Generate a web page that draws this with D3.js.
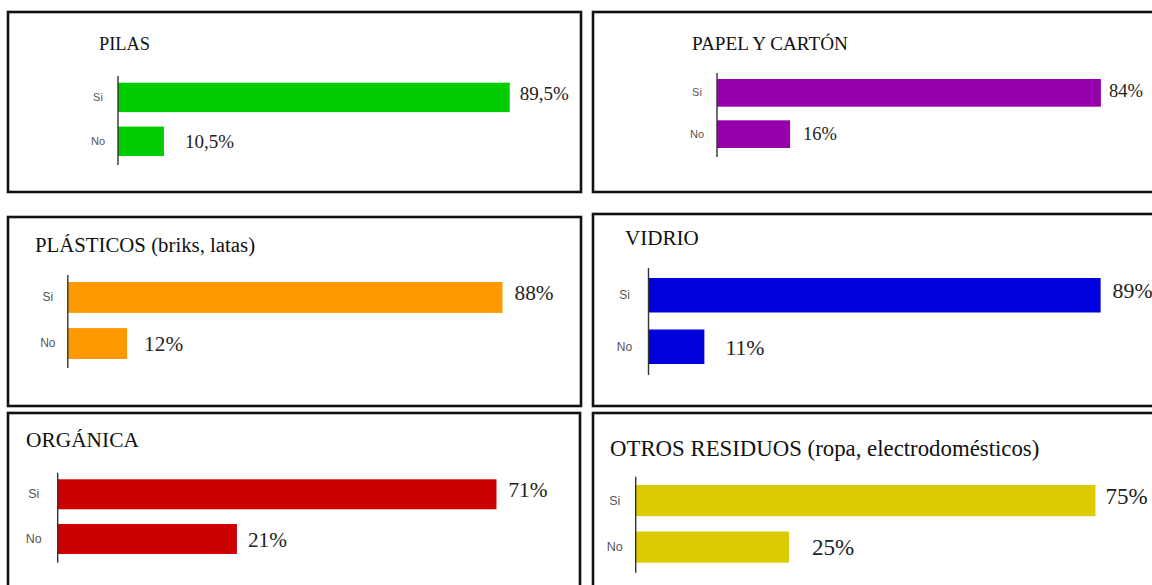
<!DOCTYPE html>
<html>
<head>
<meta charset="utf-8">
<script src="https://cdn.jsdelivr.net/npm/d3@7"></script>
<style>
  html, body { margin: 0; padding: 0; background: #fff; }
  svg { display: block; }
  .serif { font-family: "Liberation Serif", "Times New Roman", Tinos, "DejaVu Serif", "Noto Serif", serif; }
  .sans { font-family: "Liberation Sans", Arial, Arimo, sans-serif; }
</style>
</head>
<body>
<svg id="chart" width="1152" height="585"></svg>
<script>
// ---- data ----
const panelTitles = ["PILAS", "PAPEL Y CARTÓN", "PLÁSTICOS (briks, latas)", "VIDRIO", "ORGÁNICA", "OTROS RESIDUOS (ropa, electrodomésticos)"];
const answers = ["Si", "No"];
const siValues = [89.5, 84, 88, 89, 71, 75];
const noValues = [10.5, 16, 12, 11, 29, 25];   // ORGÁNICA "No" bar is drawn at ~29 although labelled 21%
const siLabels = ["89,5%", "84%", "88%", "89%", "71%", "75%"];
const noLabels = ["10,5%", "16%", "12%", "11%", "21%", "25%"];
const barColors = ["#00cc00", "#9600aa", "#ff9900", "#0000dd", "#cc0000", "#dccb00"];

// ---- layout (positions / sizes only) ----
const layout = [
  {box:[8,12,581,192],   tx:99,  ty:50,  ts:18.4, ax:118,   full:437.7, y0:82.7, y1:156,   at:76,    ab:165,   vs:19,   ls:11,   gapSi:10, gapNo:21, lo:20, dSi:3, dNo:7},
  {box:[593,12,1162,192],tx:692, ty:50,  ts:19.2, ax:717,   full:457,   y0:79,   y1:148,   at:73,    ab:157,   vs:18.5, ls:11,   gapSi:8,  gapNo:13, lo:20, dSi:4, dNo:6},
  {box:[8,217,581,406],  tx:35,  ty:252, ts:20.8, ax:67.8,  full:494,   y0:282,  y1:359,   at:275,   ab:368,   vs:21.3, ls:12,   gapSi:12, gapNo:17, lo:20, dSi:3, dNo:7},
  {box:[593,214,1162,406],tx:625,ty:245, ts:21.1, ax:648.5, full:508,   y0:278,  y1:364,   at:268,   ab:375,   vs:21.8, ls:12,   gapSi:12, gapNo:21, lo:24, dSi:3, dNo:8},
  {box:[8,413,580,600],  tx:26,  ty:447, ts:21.4, ax:57.7,  full:618,   y0:479.3,y1:554,   at:472.7, ab:562.7, vs:21.3, ls:12.5, gapSi:12, gapNo:11, lo:24, dSi:3, dNo:8},
  {box:[593,413,1162,600],tx:610,ty:456, ts:22.8, ax:635.7, full:613,   y0:485,  y1:562.7, at:476.7, ab:572.7, vs:23,   ls:12.5, gapSi:10, gapNo:23, lo:21, dSi:3, dNo:8}
];

const svg = d3.select("#chart");
svg.append("rect").attr("width", 1152).attr("height", 585).attr("fill", "#fff");

panelTitles.forEach((title, i) => {
  const L = layout[i];
  const g = svg.append("g");
  const [bx0, by0, bx1, by1] = L.box;

  g.append("rect")
    .attr("x", bx0).attr("y", by0)
    .attr("width", bx1 - bx0).attr("height", by1 - by0)
    .attr("fill", "#fff").attr("stroke", "#111").attr("stroke-width", 2.6);

  g.append("text")
    .attr("class", "serif")
    .attr("x", L.tx).attr("y", L.ty)
    .style("font-size", L.ts + "px").attr("fill", "#111")
    .text(title);

  const x = d3.scaleLinear().domain([0, 100]).range([L.ax, L.ax + L.full]);
  const y = d3.scaleBand().domain(answers).range([L.y0, L.y1]).paddingInner(0.33).paddingOuter(0);

  const rows = [
    {k: "Si", v: siValues[i], lab: siLabels[i], gap: L.gapSi, d: L.dSi},
    {k: "No", v: noValues[i], lab: noLabels[i], gap: L.gapNo, d: L.dNo}
  ];

  g.selectAll("rect.bar").data(rows).enter().append("rect")
    .attr("class", "bar")
    .attr("x", x(0)).attr("y", d => y(d.k))
    .attr("width", d => x(d.v) - x(0))
    .attr("height", y.bandwidth())
    .attr("fill", barColors[i]);

  g.selectAll("text.val").data(rows).enter().append("text")
    .attr("class", "val serif")
    .attr("x", d => x(d.v) + d.gap)
    .attr("y", d => y(d.k) + y.bandwidth() / 2 + d.d)
    .style("font-size", L.vs + "px").attr("fill", "#222")
    .text(d => d.lab);

  // category axis
  const axis = d3.axisLeft(y).tickSize(0).tickPadding(L.lo);
  const ag = g.append("g").attr("transform", `translate(${L.ax},0)`).call(axis);
  ag.attr("font-family", null).attr("font-size", null);
  ag.select(".domain").remove();
  ag.selectAll("text")
    .attr("class", "sans")
    .attr("text-anchor", "middle")
    .style("font-size", L.ls + "px").attr("fill", "#555");
  g.append("line")
    .attr("x1", L.ax).attr("x2", L.ax)
    .attr("y1", L.at).attr("y2", L.ab)
    .attr("stroke", "#333").attr("stroke-width", 1.4);
});
</script>
</body>
</html>
